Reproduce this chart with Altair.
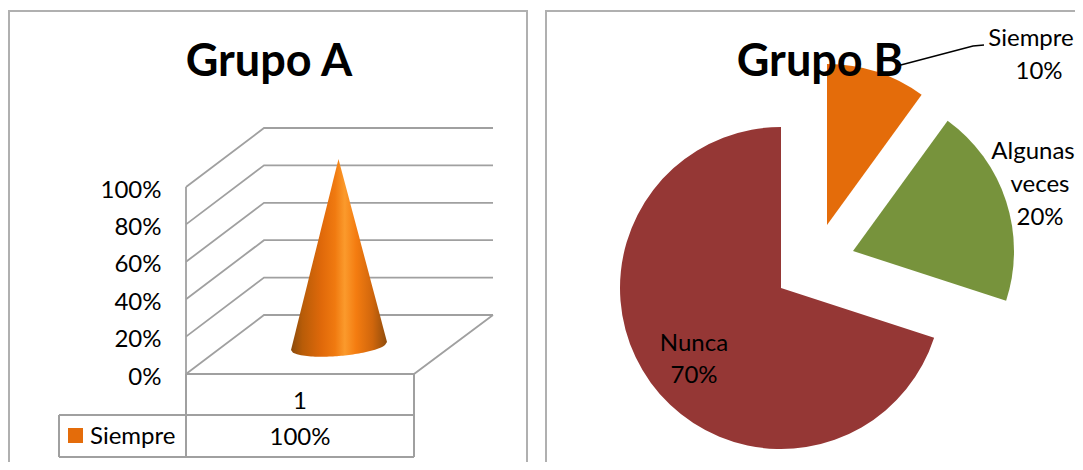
import math
import altair as alt
import pandas as pd

# ---------- values ----------
TICKS = [0, 20, 40, 60, 80, 100]
GROUP_A_LABEL = "Siempre"
GROUP_A_VALUE = "100%"
GROUP_A_CATEGORY = "1"

B_CATS = ["Siempre", "Algunas veces", "Nunca"]
B_SHARES = [10, 20, 70]
B_COLORS = ["#E46C0A", "#77933C", "#953735"]

# ---------- layout (picture pixels) ----------
PAGE = 8
W, H = 1083, 470
RIGHT, BOTTOM = W - PAGE, H - PAGE
FONT = "Lato"
GREY = "#a0a0a0"
BORDER = "#b0b0b0"
FLOOR_Y, TOP_Y = 374, 187
PX_PER_PCT = (FLOOR_Y - TOP_Y) / 100
DEPTH_PCT = 59 / PX_PER_PCT
WALL_L, WALL_BACK, WALL_R, FLOOR_R = 186, 264, 493, 414

xs = alt.Scale(domain=[PAGE, RIGHT])
ys = alt.Scale(domain=[BOTTOM, PAGE])
pct_scale = alt.Scale(domain=[(FLOOR_Y - BOTTOM) / PX_PER_PCT, (FLOOR_Y - PAGE) / PX_PER_PCT])
X = alt.X("x:Q", scale=xs, axis=None)
Y = alt.Y("y:Q", scale=ys, axis=None)
X2 = alt.X2("x2:Q")
Y2 = alt.Y2("y2:Q")


def lines(segments, color, width):
    rows = []
    for i, pts in enumerate(segments):
        for k, (x, y) in enumerate(pts):
            rows.append({"x": x, "y": y, "g": i, "k": k})
    return (
        alt.Chart(pd.DataFrame(rows))
        .mark_line(color=color, strokeWidth=width, interpolate="linear")
        .encode(x=X, y=Y, detail="g:N", order="k:Q")
    )


def texts(rows, size, weight="normal", align="center", baseline="middle"):
    return (
        alt.Chart(pd.DataFrame(rows, columns=["x", "y", "t"]))
        .mark_text(font=FONT, fontSize=size, fontWeight=weight, align=align, baseline=baseline, color="black")
        .encode(x=X, y=Y, text="t:N")
    )


# ---------- panels ----------
panels = lines(
    [
        [(9, BOTTOM), (9, 11), (527, 11), (527, BOTTOM)],
        [(546, BOTTOM), (546, 11), (RIGHT, 11)],
    ],
    BORDER,
    2,
)

# ---------- Grupo A: 3-D walls on a real percent scale ----------
wall_rows = []
g = 0
for v in TICKS:
    for k, (x, p) in enumerate([(WALL_L, v), (WALL_BACK, v + DEPTH_PCT), (WALL_R, v + DEPTH_PCT)]):
        wall_rows.append({"x": x, "v": p, "g": g, "k": k})
    g += 1
for k, (x, p) in enumerate([(WALL_L, 0), (WALL_L, 100)]):
    wall_rows.append({"x": x, "v": p, "g": g, "k": k})
g += 1
for k, (x, p) in enumerate([(WALL_L, 0), (FLOOR_R, 0), (WALL_R, DEPTH_PCT)]):
    wall_rows.append({"x": x, "v": p, "g": g, "k": k})

walls = (
    alt.Chart(pd.DataFrame(wall_rows))
    .mark_line(color=GREY, strokeWidth=1.8)
    .encode(
        x=X,
        y=alt.Y(
            "v:Q",
            scale=pct_scale,
            axis=alt.Axis(
                values=TICKS,
                labelExpr="datum.value + '%'",
                orient="left",
                offset=-153,
                domain=False,
                ticks=False,
                grid=False,
                title=None,
                labelFont=FONT,
                labelFontSize=24,
                labelColor="black",
                labelPadding=0,
                labelOffset=3,
                labelFlush=False,
                labelOverlap=False,
            ),
        ),
        detail="g:N",
        order="k:Q",
    )
)

# ---------- cone ----------
APEX = (338.5, 159)
BASE_L = (291, 350)
BASE_R = (387, 342)
CX, CY, A, B, TILT = 339, 346, 48, 10, -0.082
cone_x = [BASE_L[0] + (BASE_R[0] - BASE_L[0]) * i / 48 for i in range(49)] + [APEX[0]]
cone_rows = []
for x in sorted(set(cone_x)):
    if x <= APEX[0]:
        top = BASE_L[1] + (APEX[1] - BASE_L[1]) * (x - BASE_L[0]) / (APEX[0] - BASE_L[0])
    else:
        top = BASE_R[1] + (APEX[1] - BASE_R[1]) * (BASE_R[0] - x) / (BASE_R[0] - APEX[0])
    u = max(-1, min(1, (x - CX) / A))
    if x == BASE_L[0]:
        low = BASE_L[1]
    elif x == BASE_R[0]:
        low = BASE_R[1]
    else:
        low = CY + (x - CX) * TILT + B * math.sqrt(1 - u * u)
    cone_rows.append({"x": x, "y": top, "y2": low})

cone = (
    alt.Chart(pd.DataFrame(cone_rows))
    .mark_area(
        interpolate="linear",
        line=False,
        color=alt.LinearGradient(
            gradient="linear",
            x1=0,
            x2=1,
            y1=0,
            y2=0,
            stops=[
                alt.GradientStop(offset=0.0, color="#8a4a0c"),
                alt.GradientStop(offset=0.12, color="#b85c08"),
                alt.GradientStop(offset=0.32, color="#e0690a"),
                alt.GradientStop(offset=0.46, color="#f07a10"),
                alt.GradientStop(offset=0.56, color="#fb9a2c"),
                alt.GradientStop(offset=0.68, color="#f47c10"),
                alt.GradientStop(offset=0.85, color="#d0660c"),
                alt.GradientStop(offset=1.0, color="#8f4c0c"),
            ],
        ),
    )
    .encode(x=X, y=Y, y2=Y2)
)

# ---------- data table ----------
table = lines(
    [
        [(WALL_L, 374), (WALL_L, 457)],
        [(FLOOR_R, 374), (FLOOR_R, 457)],
        [(59, 415), (FLOOR_R, 415)],
        [(59, 457), (FLOOR_R, 457)],
        [(59, 415), (59, 457)],
    ],
    GREY,
    2,
)
swatch = (
    alt.Chart(pd.DataFrame([{"x": 68, "x2": 83, "y": 428, "y2": 443}]))
    .mark_rect(color=B_COLORS[0])
    .encode(x=X, x2=X2, y=Y, y2=Y2)
)
table_text = texts(
    [(300, 401.5, GROUP_A_CATEGORY), (300, 437.5, GROUP_A_VALUE)],
    24,
)
legend_text = texts([(90, 436.5, GROUP_A_LABEL)], 24, align="left")

# ---------- Grupo B: exploded pie ----------
CENTERS = [(827, 225), (853, 251), (781, 288)]
RADIUS = 161
pie_df = pd.DataFrame(
    {
        "cat": B_CATS,
        "share": B_SHARES,
        "x": [c[0] for c in CENTERS],
        "y": [c[1] for c in CENTERS],
        "color": B_COLORS,
    }
)
pie_df["end"] = pie_df["share"].cumsum()
pie_df["start"] = pie_df["end"] - pie_df["share"]
pie = (
    alt.Chart(pie_df)
    .mark_arc(outerRadius=RADIUS, innerRadius=0)
    .encode(
        x=X,
        y=Y,
        theta=alt.Theta("start:Q", scale=alt.Scale(domain=[0, 100], range=[0, 2 * math.pi]), stack=None),
        theta2=alt.Theta2("end:Q"),
        color=alt.Color("color:N", scale=None),
    )
)
leader = lines([[(897, 66), (973, 46), (984, 45)]], "black", 1.5)
pie_text = texts(
    [
        (1031, 39, "Siempre"),
        (1039, 72, "10%"),
        (1033, 151.5, "Algunas"),
        (1040, 184.5, "veces"),
        (1040, 217.5, "20%"),
        (694, 343.5, "Nunca"),
        (694, 375.5, "70%"),
    ],
    24,
)

titles = texts(
    [(269, 76, "Grupo A"), (820, 76, "Grupo B")],
    45,
    weight="bold",
    baseline="alphabetic",
)

chart = (
    alt.layer(panels, walls, cone, table, swatch, table_text, legend_text, pie, titles, leader, pie_text)
    .resolve_scale(y="independent")
    .resolve_axis(y="independent")
    .properties(width=RIGHT - PAGE, height=BOTTOM - PAGE, padding=0, autosize="none", background="white")
    .configure_view(stroke=None)
)

chart.save("out.html", embed_options={"renderer": "svg", "actions": False})
